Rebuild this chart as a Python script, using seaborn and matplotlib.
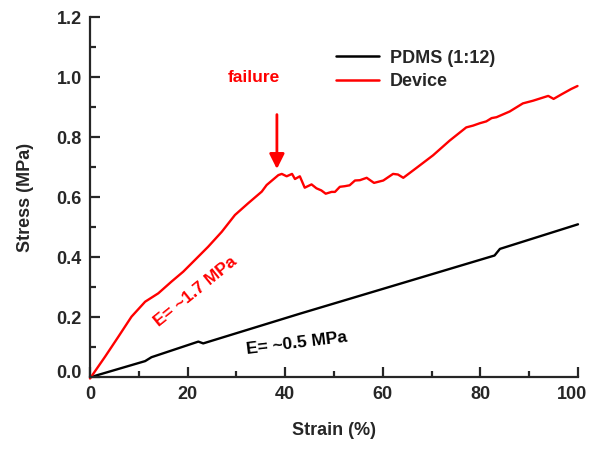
import numpy as np
import pandas as pd
import matplotlib
matplotlib.use("Agg")
import matplotlib.pyplot as plt
import matplotlib.transforms as mtransforms
import seaborn as sns

# Data
pdms_strain = [0, 11.3, 12.6, 22.2, 23.2, 43.0, 82.9, 84.0, 100.0]
pdms_stress = [0, 0.054, 0.067, 0.119, 0.113, 0.212, 0.406, 0.428, 0.510]

device_strain = [0, 3.1, 5.8, 8.5, 11.3, 14.0, 16.7, 19.1, 21.5, 24.2, 27.0, 29.7,
                 32.4, 35.2, 36.2, 38.6, 39.3, 40.3, 41.4, 42.0, 43.0, 44.0, 45.4,
                 46.4, 47.4, 48.3, 49.5, 50.2, 51.2, 52.2, 53.2, 54.3, 55.3, 56.7,
                 58.2, 60.1, 62.1, 63.1, 64.2, 66.9, 70.3, 73.7, 77.1, 78.5, 79.9,
                 81.2, 82.3, 83.3, 86.0, 88.7, 90.8, 93.9, 95.0, 96.6, 98.6, 99.9]
device_stress = [-0.004, 0.069, 0.135, 0.202, 0.252, 0.280, 0.319, 0.352, 0.391,
                 0.435, 0.485, 0.541, 0.580, 0.619, 0.641, 0.674, 0.678, 0.670,
                 0.678, 0.661, 0.670, 0.632, 0.643, 0.630, 0.623, 0.612, 0.618,
                 0.618, 0.635, 0.637, 0.640, 0.656, 0.657, 0.665, 0.648, 0.656,
                 0.678, 0.676, 0.665, 0.698, 0.740, 0.789, 0.833, 0.839, 0.847,
                 0.853, 0.864, 0.867, 0.886, 0.913, 0.922, 0.938, 0.928, 0.943,
                 0.961, 0.971]

series_names = ["PDMS (1:12)", "Device"]
series_colors = ["#000000", "#ff0000"]
x_ticks = [0, 20, 40, 60, 80, 100]
y_ticks = [0.0, 0.2, 0.4, 0.6, 0.8, 1.0, 1.2]

df = pd.concat([
    pd.DataFrame({"Strain": pdms_strain, "Stress": pdms_stress, "Sample": series_names[0]}),
    pd.DataFrame({"Strain": device_strain, "Stress": device_stress, "Sample": series_names[1]}),
], ignore_index=True)

sns.set_style("ticks")
plt.rcParams['font.family'] = ['Liberation Sans', 'DejaVu Sans']
plt.rcParams['font.weight'] = 'bold'

fig = plt.figure(figsize=(5.92, 4.49), dpi=100)
ax = fig.add_axes([90/592, 1 - 377.3/449, 488/592, 360/449])

sns.lineplot(data=df, x="Strain", y="Stress", hue="Sample", sort=False,
             palette=dict(zip(series_names, series_colors)), linewidth=1.7,
             ax=ax, estimator=None)
for ln in ax.lines:
    ln.set_clip_on(False)

ax.set_xlim(0, 100)
ax.set_ylim(0, 1.2)
ax.set_xticks(x_ticks)
ax.set_yticks(y_ticks)
ax.set_xticklabels([str(t) for t in x_ticks])
ax.set_yticklabels([f"{t:.1f}" for t in y_ticks])
ax.xaxis.set_minor_locator(matplotlib.ticker.MultipleLocator(10))
ax.yaxis.set_minor_locator(matplotlib.ticker.MultipleLocator(0.1))
ax.tick_params(which='major', direction='in', length=7, width=1.6, labelsize=13, pad=6)
ax.tick_params(which='minor', direction='in', length=4.5, width=1.6)
for lab in ax.get_xticklabels() + ax.get_yticklabels():
    lab.set_fontweight('bold')
# lift the "0.0" label slightly, as in the reference
lab0 = ax.yaxis.get_major_ticks()[0].label1
lab0.set_transform(lab0.get_transform() +
                   mtransforms.ScaledTranslation(0, 6/100, fig.dpi_scale_trans))
# nudge the "100" label left so it stays inside the figure
labN = ax.xaxis.get_major_ticks()[-1].label1
labN.set_transform(labN.get_transform() +
                   mtransforms.ScaledTranslation(-6/100, 0, fig.dpi_scale_trans))
for s in ['top', 'right']:
    ax.spines[s].set_visible(False)
for s in ['left', 'bottom']:
    ax.spines[s].set_linewidth(1.6)

ax.set_xlabel("Strain (%)", fontsize=13, fontweight='bold', labelpad=14)
ax.set_ylabel("Stress (MPa)", fontsize=13, fontweight='bold', labelpad=16)

leg = ax.legend(loc='upper left', bbox_to_anchor=(0.47, 0.955), frameon=False,
                fontsize=13, handlelength=2.4, handletextpad=0.6, labelspacing=0.35)
for t in leg.get_texts():
    t.set_fontweight('bold')
for h in leg.get_lines():
    h.set_linewidth(1.8)

ax.text(33.6, 1.0, "failure", color='red', fontsize=12.5, fontweight='bold',
        ha='center', va='center')
ax.annotate("", xy=(38.3, 0.685), xytext=(38.3, 0.885),
            arrowprops=dict(arrowstyle='-|>,head_width=0.45,head_length=0.9',
                            color='red', lw=2))
ax.text(21.6, 0.287, "E= ~1.7 MPa", color='red', fontsize=12.5, fontweight='bold',
        ha='center', va='center', rotation=39)
ax.text(42.4, 0.113, "E= ~0.5 MPa", color='black', fontsize=12.5, fontweight='bold',
        ha='center', va='center', rotation=7)

fig.savefig("out.png", dpi=100)
